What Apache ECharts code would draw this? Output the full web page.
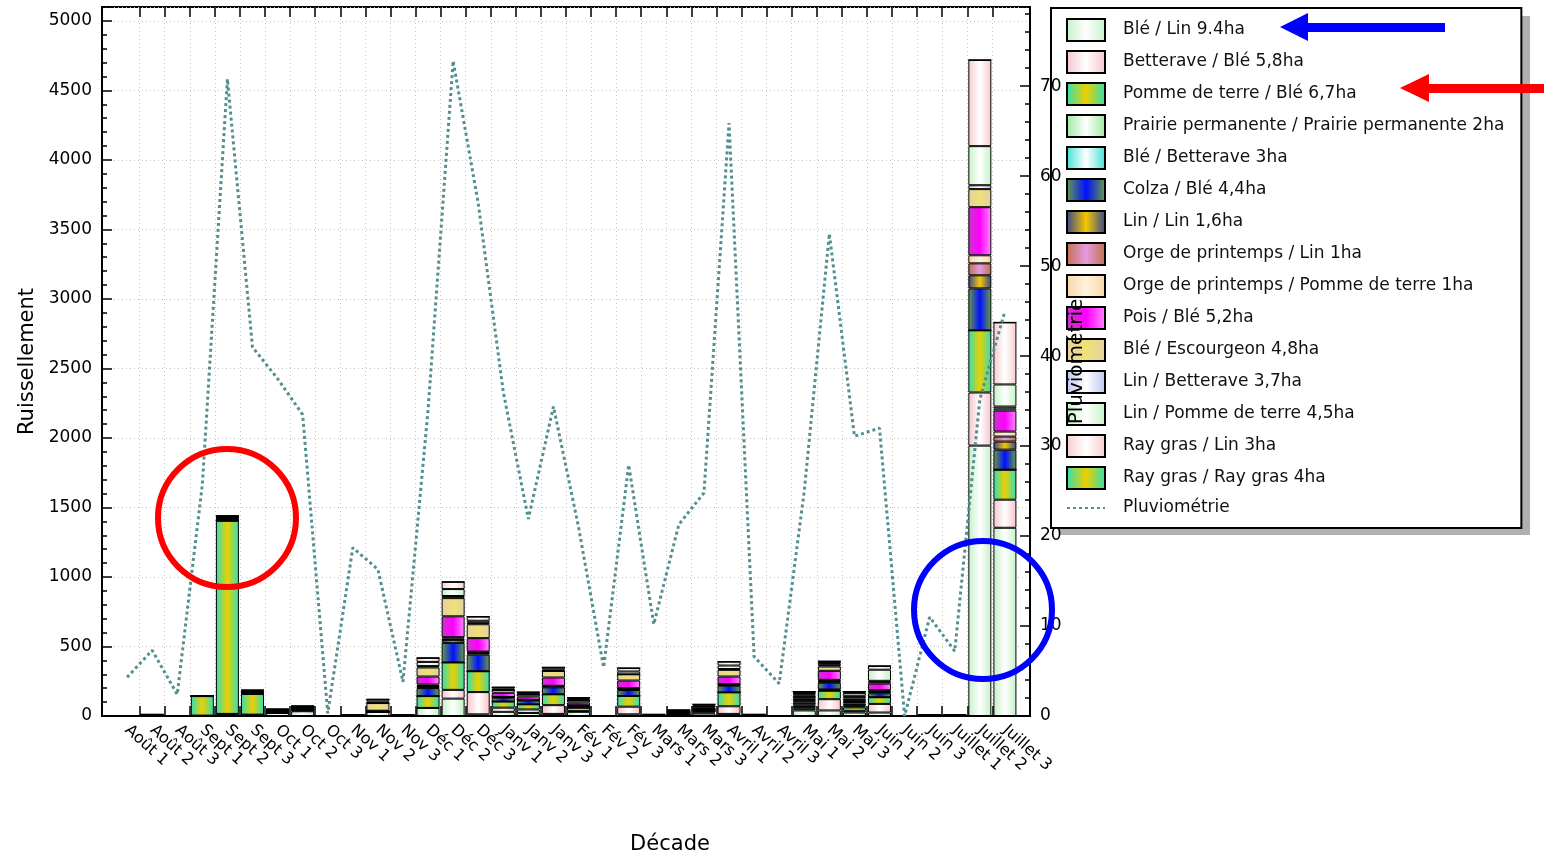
<!DOCTYPE html>
<html><head><meta charset="utf-8">
<script src="https://cdn.jsdelivr.net/npm/echarts@6/dist/echarts.min.js"></script>
<style>html,body{margin:0;padding:0;background:#fff;} #c{width:1544px;height:856px;}</style>
</head><body><div id="c"></div>
<script>
// ---------- DATA ----------
const categories = ['Août 1','Août 2','Août 3','Sept 1','Sept 2','Sept 3','Oct 1','Oct 2','Oct 3',
  'Nov 1','Nov 2','Nov 3','Déc 1','Déc 2','Déc 3','Janv 1','Janv 2','Janv 3','Fév 1','Fév 2','Fév 3',
  'Mars 1','Mars 2','Mars 3','Avril 1','Avril 2','Avril 3','Mai 1','Mai 2','Mai 3','Juin 1','Juin 2','Juin 3',
  'Juillet 1','Juillet 2','Juillet 3'];

const bleLin          = [0,6,0,3,15,10,22,34,0,5,30,4,58,125,12,30,22,15,30,0,12,4,8,18,15,6,0,40,40,25,25,0,4,4,1945,1354];
const betteraveBle    = [0,0,0,0,0,0,0,5,0,0,0,0,0,63,160,30,25,63,5,0,55,0,0,8,55,0,0,12,81,12,62,0,0,0,382,202];
const pommeDeTerreBle = [0,0,0,140,1390,150,4,5,0,0,0,0,85,197,150,44,37,78,25,0,77,0,5,10,100,0,0,12,60,25,48,0,0,0,447,216];
const prairie         = [0,0,0,0,0,0,0,0,0,0,0,0,0,0,0,0,0,0,0,0,0,0,0,0,0,0,0,10,5,8,0,0,0,0,0,0];
const bleBetterave    = [0,0,0,0,0,0,0,0,0,0,0,0,0,0,0,0,0,0,0,0,0,0,0,0,0,0,0,10,5,8,0,0,0,0,0,0];
const colzaBle        = [0,0,0,0,0,0,4,5,0,0,0,0,58,141,119,28,28,50,12,0,43,0,5,8,48,0,0,12,48,12,29,0,0,0,302,144];
const linLin          = [0,0,0,0,5,0,4,4,0,0,0,0,10,20,12,5,5,6,5,0,8,0,5,5,6,0,0,10,8,10,8,0,0,0,94,58];
const orgeLin         = [0,0,0,0,5,0,0,0,0,0,0,0,5,10,5,0,0,0,0,0,0,0,0,0,0,0,0,8,5,6,5,0,0,0,86,36];
const orgePdt         = [0,0,0,0,5,0,0,0,0,0,8,0,10,11,5,0,0,5,0,0,5,0,0,0,5,0,0,10,8,8,8,0,0,0,58,36];
const poisBle         = [0,0,0,0,5,5,4,5,0,0,0,0,58,150,97,30,24,60,20,0,55,0,5,10,55,0,0,12,65,12,48,0,0,0,346,151];
const bleEscourgeon   = [0,0,0,0,5,7,4,5,0,0,55,0,65,131,100,20,15,47,15,0,45,0,5,10,48,0,0,12,31,12,10,0,0,0,130,15];
const linBetterave    = [0,0,0,0,0,0,0,0,0,0,0,0,10,15,10,0,0,0,0,0,0,0,0,0,6,0,0,8,10,8,10,0,0,0,28,14];
const linPdt          = [0,0,0,0,5,5,4,5,0,0,12,0,30,50,15,10,8,12,10,0,20,4,5,8,25,0,0,10,15,20,80,0,0,0,281,159];
const rayGrasLin      = [0,6,0,0,5,10,4,4,0,5,15,4,29,52,30,10,8,14,10,0,25,4,5,7,28,6,0,9,13,9,27,0,4,4,620,446];
const rayGrasRayGras  = [0,0,0,0,0,0,0,0,0,0,0,0,0,0,0,0,0,0,0,0,0,0,0,0,0,0,0,0,0,0,0,0,0,0,0,0];

const pluviometrie = [4.3,7.3,2.4,25.7,70.8,41,37.5,33.5,0.3,18.7,16.3,3.8,34,72.8,57,36,21.9,34.4,21,5.4,27.9,
  10.2,21.3,24.8,65.9,6.6,3.6,25,53.6,31.1,32,0,11,7.2,35.2,45];

const seriesNames = ['Blé / Lin 9.4ha','Betterave / Blé 5,8ha','Pomme de terre / Blé 6,7ha',
  'Prairie permanente / Prairie permanente 2ha','Blé / Betterave 3ha','Colza / Blé 4,4ha','Lin / Lin 1,6ha',
  'Orge de printemps / Lin 1ha','Orge de printemps / Pomme de terre 1ha','Pois / Blé 5,2ha',
  'Blé / Escourgeon 4,8ha','Lin / Betterave 3,7ha','Lin / Pomme de terre 4,5ha','Ray gras / Lin 3ha',
  'Ray gras / Ray gras 4ha'];
const lineName = 'Pluviométrie';
const barValues = [bleLin,betteraveBle,pommeDeTerreBle,prairie,bleBetterave,colzaBle,linLin,orgeLin,orgePdt,
  poisBle,bleEscourgeon,linBetterave,linPdt,rayGrasLin,rayGrasRayGras];

// ---------- STYLE ----------
const palette = [
  ['#c4f0c8','#ffffff'], ['#f6c4cc','#ffffff'], ['#2ee0b8','#ecd000'], ['#9ce89c','#ffffff'],
  ['#3ee0d4','#ffffff'], ['#6aa040','#0010ff'], ['#34458e','#f6c800'], ['#c07048','#e69ae0'],
  ['#f6d6a6','#fff2dc'], ['#c838c8','#ff00ff','#ff8cff'], ['#e2d2a2','#f0e078'], ['#bcc4f0','#ffffff'],
  ['#c4f2c4','#ffffff'], ['#f6cccc','#ffffff'], ['#2ee0b8','#ecd000']
];
function grad(c){
  return new echarts.graphic.LinearGradient(0,0,1,0,[
    {offset:0,color:c[0]},{offset:0.5,color:c[1]},{offset:1,color:c[2]||c[0]}]);
}
const pad = a => [null, ...a, null];
const xCats = ['', ...categories, ''];
const helperCats = Array.from({length:74}, (_, i) => 'h' + i);
const tickFilter = (i) => i % 2 === 1 && i >= 3 && i <= 71;
const FONT = 'DejaVu Sans';
const LINE_COLOR = '#548f8f';

const chart = echarts.init(document.getElementById('c'), null, {renderer:'canvas'});

const series = barValues.map((arr, k) => ({
  name: seriesNames[k], type: 'bar', stack: 'ruis', xAxisIndex: 0, yAxisIndex: 0,
  barWidth: 23, data: pad(arr),
  itemStyle: {color: grad(palette[k]), borderColor: '#000', borderWidth: 1},
  emphasis: {disabled: true}
}));
series.push({
  name: lineName, type: 'line', xAxisIndex: 0, yAxisIndex: 1, data: pad(pluviometrie),
  symbol: 'none', z: 5,
  lineStyle: {type: [3, 3], width: 3, color: LINE_COLOR},
  itemStyle: {color: LINE_COLOR},
  emphasis: {disabled: true}
});

const legendData = seriesNames.map(n => ({name: n, icon: 'rect'}));
legendData.push({name: lineName, itemStyle: {opacity: 0}});

const option = {
  animation: false,
  backgroundColor: '#fff',
  grid: {left: 102, top: 7, width: 928, height: 709, show: true, borderColor: '#000', borderWidth: 2,
    outerBoundsMode: 'none', containLabel: false},
  legend: {
    orient: 'vertical', left: 1051, top: 8, selectedMode: false, z: 4,
    data: legendData,
    itemWidth: 38, itemHeight: 22, itemGap: 8,
    padding: [10, 17, 10, 15],
    backgroundColor: '#fff', borderColor: '#000', borderWidth: 2,
    textStyle: {fontFamily: FONT, fontSize: 17, lineHeight: 20, color: '#111', padding: [0,0,0,13]}
  },
  xAxis: [
    {
      type: 'category', data: xCats, boundaryGap: false, position: 'bottom',
      axisLine: {show: true, lineStyle: {color: '#000', width: 2}},
      axisTick: {show: false}, splitLine: {show: false},
      axisLabel: {interval: 0, rotate: -42, fontFamily: FONT, fontSize: 16, color: '#000', margin: 12},
      name: 'Décade', nameLocation: 'middle', nameGap: 118,
      nameTextStyle: {fontFamily: FONT, fontSize: 21, color: '#000', padding: [0,0,0,208]}
    },
    {
      type: 'category', data: helperCats, boundaryGap: true, position: 'bottom',
      axisLine: {show: false}, axisLabel: {show: false},
      axisTick: {show: true, inside: true, length: 10, interval: tickFilter, lineStyle: {color: '#000', width: 1.5}},
      splitLine: {show: true, interval: tickFilter, lineStyle: {color: '#c4c4c4', type: [1, 3], width: 1}}
    },
    {
      type: 'category', data: helperCats, boundaryGap: true, position: 'top',
      axisLine: {show: false}, axisLabel: {show: false}, splitLine: {show: false},
      axisTick: {show: true, inside: true, length: 10, interval: tickFilter, lineStyle: {color: '#000', width: 1.5}}
    }
  ],
  yAxis: [
    {
      type: 'value', min: 0, max: 5100, interval: 500, position: 'left',
      axisLine: {show: true, lineStyle: {color: '#000', width: 2}},
      axisTick: {show: true, inside: true, length: 10, lineStyle: {color: '#000', width: 1.5}},
      minorTick: {show: true, splitNumber: 5, length: 5, lineStyle: {color: '#000', width: 1.5}},
      axisLabel: {showMaxLabel: false, fontFamily: FONT, fontSize: 17, color: '#000', margin: 10,
        formatter: v => String(v)},
      splitLine: {show: true, lineStyle: {color: '#c4c4c4', type: [1, 3], width: 1}},
      name: 'Ruissellement', nameLocation: 'middle', nameGap: 62, nameRotate: 90,
      nameTextStyle: {fontFamily: FONT, fontSize: 21, color: '#000'}
    },
    {
      type: 'value', min: 0, max: 78.8, interval: 10, position: 'right', z: 10,
      axisLine: {show: true, lineStyle: {color: '#000', width: 2}},
      axisTick: {show: true, inside: true, length: 10, lineStyle: {color: '#000', width: 1.5}},
      minorTick: {show: true, splitNumber: 5, length: 5, lineStyle: {color: '#000', width: 1.5}},
      axisLabel: {showMaxLabel: false, fontFamily: FONT, fontSize: 17, color: '#000', margin: 10,
        formatter: v => String(v)},
      splitLine: {show: false},
      name: 'Pluviométrie', nameLocation: 'middle', nameGap: 37, nameRotate: 90, nameMoveOverlap: false,
      nameTextStyle: {fontFamily: FONT, fontSize: 20, color: '#000'}
    }
  ],
  series: series,
  graphic: [
    {type: 'rect', z: 3, shape: {x: 1059, y: 16, width: 471, height: 519}, style: {fill: '#b0b0b0'}},
    {type: 'circle', z: 100, shape: {cx: 227, cy: 518, r: 69}, style: {fill: 'none', stroke: '#ff0000', lineWidth: 6}},
    {type: 'circle', z: 100, shape: {cx: 983, cy: 610, r: 69}, style: {fill: 'none', stroke: '#0000ff', lineWidth: 6}},
    {type: 'polygon', z: 100, shape: {points: [[1280,27],[1308,13],[1308,23],[1445,23],[1445,32],[1308,32],[1308,41]]}, style: {fill: '#0000ff'}},
    {type: 'polygon', z: 100, shape: {points: [[1400,88],[1429,74],[1429,84],[1544,84],[1544,93],[1429,93],[1429,102]]}, style: {fill: '#ff0000'}}
  ]
};
chart.setOption(option);
</script>
</body></html>
